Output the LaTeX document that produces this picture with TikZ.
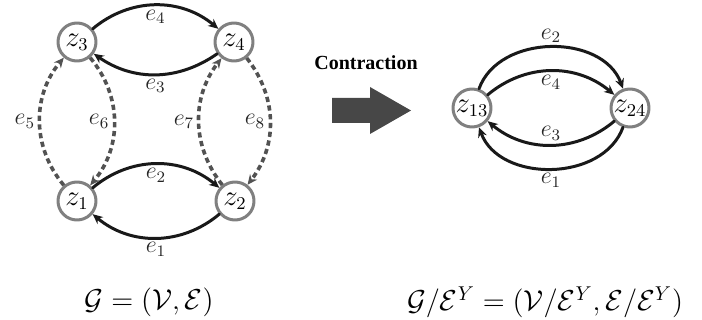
\documentclass[tikz,border=0pt]{standalone}
\usepackage{amsmath,amssymb}
\usepackage{fontspec}
\newfontfamily\headfont{Liberation Serif}
\usetikzlibrary{arrows.meta,positioning}

\begin{document}
\begin{tikzpicture}[x=0.5pt,y=-0.5pt,line cap=round,line join=round,
  vert/.style={circle,draw=black!50,line width=1.5pt,fill=white,inner sep=0pt,minimum size=19pt,font=\fontsize{13.5}{16}\selectfont},
  solidedge/.style={-{Stealth[length=5pt,width=4.5pt]},line width=1.5pt,black!90},
  dashedge/.style={-{Stealth[length=5pt,width=4.5pt]},line width=1.8pt,black!68,line cap=butt,dash pattern=on 2.6pt off 1.8pt},
  elabel/.style={font=\fontsize{12}{14}\selectfont,inner sep=1.5pt,text=black!85},
  formula/.style={font=\fontsize{13.6}{16}\selectfont}]
\path[use as bounding box] (0,0) rectangle (702,320);
% original graph
\node[vert] (z3) at (77,42) {$z_3$};
\node[vert] (z4) at (234,42) {$z_4$};
\node[vert] (z1) at (77,201) {$z_1$};
\node[vert] (z2) at (235,201) {$z_2$};
\draw[solidedge] (z3) to[bend left=40] node[elabel,below] {$e_4$} (z4);
\draw[solidedge] (z4) to[bend left=35] node[elabel,below] {$e_3$} (z3);
\draw[solidedge] (z1) to[bend left=40] node[elabel,below] {$e_2$} (z2);
\draw[solidedge] (z2) to[bend left=40] node[elabel,below] {$e_1$} (z1);
\draw[dashedge] (z1) to[bend left=40] node[elabel,left] {$e_5$} (z3);
\draw[dashedge] (z3) to[bend left=40] node[elabel,left] {$e_6$} (z1);
\draw[dashedge] (z2) to[bend left=38] node[elabel,left] {$e_7$} (z4);
\draw[dashedge] (z4) to[bend left=38] node[elabel,left] {$e_8$} (z2);
% contraction arrow
\node[font=\headfont\bfseries\fontsize{10}{12}\selectfont] (contract) at (366,63) {Contraction};
\fill[black!72] (332,98) -- (370,98) -- (370,87) -- (411,110.5) -- (370,134) -- (370,123) -- (332,123) -- cycle;
% contracted graph
\node[vert] (z13) at (472,108) {$z_{13}$};
\node[vert] (z24) at (630,108) {$z_{24}$};
\draw[solidedge] (z13) to[out=70,in=110,looseness=1.05] node[elabel,above] {$e_2$} (z24);
\draw[solidedge] (z13) to[bend left=40] node[elabel,below] {$e_4$} (z24);
\draw[solidedge] (z24) to[bend left=40] node[elabel,above] {$e_3$} (z13);
\draw[solidedge] (z24) to[out=-110,in=-70,looseness=1.05] node[elabel,below] {$e_1$} (z13);
% captions
\node[formula] (gleft) at (149,302) {$\mathcal{G}=(\mathcal{V},\mathcal{E})$};
\node[formula] (gright) at (545,302) {$\mathcal{G}/\mathcal{E}^{Y}=(\mathcal{V}/\mathcal{E}^{Y},\mathcal{E}/\mathcal{E}^{Y})$};
\end{tikzpicture}
\end{document}
